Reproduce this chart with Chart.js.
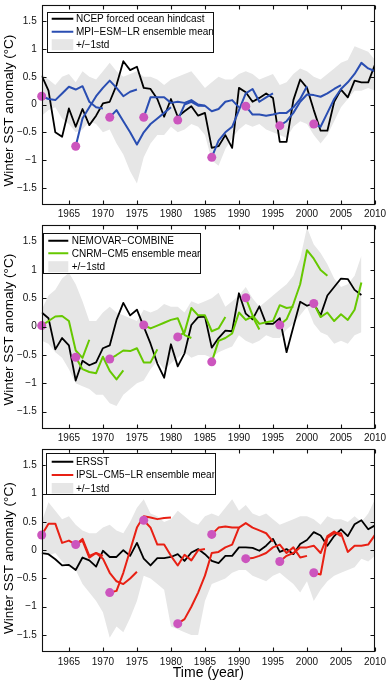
<!DOCTYPE html>
<html><head><meta charset="utf-8">
<script src="https://cdn.jsdelivr.net/npm/chart.js@4/dist/chart.umd.min.js"></script>
<style>
html,body{margin:0;padding:0;background:#fff;width:388px;height:682px;overflow:hidden}
canvas{position:absolute;left:0}
</style></head><body>
<canvas id="c1" width="388" height="223" style="top:0px"></canvas>
<canvas id="c2" width="388" height="227" style="top:220px"></canvas>
<canvas id="c3" width="388" height="238" style="top:444px"></canvas>
<script>
// ---------- categories / ticks ----------
const years = [1961,1962,1963,1964,1965,1966,1967,1968,1969,1970,1971,1972,1973,1974,1975,1976,1977,1978,1979,1980,
  1981,1982,1983,1984,1985,1986,1987,1988,1989,1990,1991,1992,1993,1994,1995,1996,1997,1998,1999,2000,
  2001,2002,2003,2004,2005,2006,2007,2008,2009,2010];
const xTicks = [1965,1970,1975,1980,1985,1990,1995,2000,2005,2010];
const yTicks = [-1.5,-1,-0.5,0,0.5,1,1.5];
const hindcastStarts = [1961,1966,1971,1976,1981,1986,1991,1996,2001];

// ---------- panel 1: NCEP / MPI-ESM-LR ----------
const ncep = [0.52,0.25,-0.50,-0.58,-0.07,-0.40,-0.08,-0.37,-0.20,0.02,0.05,0.35,0.78,0.62,0.68,0.30,0.28,0.10,-0.22,0.10,
  -0.22,-0.12,-0.03,-0.20,-0.15,-0.78,-0.75,-0.55,-0.78,0.30,0.22,0.05,0.12,0.20,0.12,-0.67,-0.67,0.08,0.45,0.30,
  -0.10,-0.47,-0.47,0.05,0.27,0.13,0.43,0.40,0.40,0.72];
const mpiUpper = [0.55,0.45,0.35,0.50,0.55,0.40,0.60,0.50,0.45,0.60,0.75,0.60,0.50,0.55,0.60,0.50,0.50,0.45,0.35,0.45,
  0.50,0.55,0.60,0.45,0.30,0.40,0.50,0.45,0.45,0.55,0.60,0.55,0.45,0.50,0.55,0.35,0.40,0.55,0.65,0.60,
  0.50,0.45,0.55,0.65,0.75,0.80,1.05,1.00,0.95,0.80];
const mpiLower = [-0.20,-0.10,-0.05,-0.25,-0.35,-0.50,-0.45,-0.30,-0.35,-0.50,-0.45,-0.70,-0.90,-1.20,-1.42,-0.95,-0.70,-0.55,-0.55,-0.40,
  -0.50,-0.45,-0.35,-0.40,-0.55,-1.00,-1.10,-0.80,-0.60,-0.45,-0.35,-0.40,-0.35,-0.45,-0.50,-0.55,-0.60,-0.40,-0.30,-0.35,
  -0.55,-0.70,-0.55,-0.30,-0.05,0.10,0.25,0.25,0.30,0.25];
const mpiHindcasts = [
  [0.15,0.10,0.08,0.20,0.32,0.27,0.33,0.05,-0.05,-0.07],
  [-0.75,-0.25,-0.05,0.15,0.30,0.43,0.30,0.15,0.23,0.27],
  [-0.23,-0.10,-0.30,-0.50,-0.72,-0.50,-0.35,-0.25,-0.15,-0.05],
  [-0.23,0.13,0.13,0.13,0.03,0.05,0.03,0.08,0.00,-0.02],
  [-0.28,0.00,0.05,-0.02,-0.02,-0.12,-0.08,0.05,0.08,-0.05],
  [-0.95,-0.65,-0.50,-0.40,-0.10,0.20,0.28,0.05,0.13,0.20],
  [-0.03,-0.18,-0.18,-0.20,-0.18,-0.15,-0.15,-0.05,0.10,0.33],
  [-0.38,-0.30,-0.15,0.05,0.18,0.17,0.14,0.20,0.28,0.35],
  [-0.35,-0.40,-0.15,0.10,0.28,0.40,0.55,0.75,0.65,0.60]
];

// ---------- panel 2: NEMOVAR / CNRM-CM5 ----------
const nemovar = [0.25,0.15,-0.40,-0.20,-0.33,-0.95,-0.60,-0.68,-0.63,-0.38,-0.33,0.12,0.42,0.20,0.30,0.00,-0.30,-0.65,-0.90,-0.31,
  -0.70,-0.47,0.03,0.17,0.18,-0.37,-0.20,-0.07,-0.08,0.59,0.23,0.13,0.36,0.05,0.05,0.15,-0.45,0.00,0.44,0.37,
  0.41,0.20,0.55,0.70,0.85,0.84,0.65,0.56];
const cnrmUpper = [0.30,0.55,0.65,0.85,0.95,0.75,0.45,0.10,0.10,0.25,0.35,0.25,0.20,0.15,0.10,0.30,0.25,0.30,0.40,0.35,
  0.35,0.25,0.45,0.40,0.45,0.50,0.60,0.35,0.45,0.55,0.70,0.50,0.35,0.45,0.55,0.65,0.75,0.90,1.20,1.75,
  1.45,1.30,1.10,0.85,0.70,0.75,0.90,1.25];
const cnrmLower = [-0.25,-0.30,-0.45,-0.55,-0.75,-1.00,-1.05,-1.10,-1.20,-1.20,-1.35,-1.40,-1.20,-1.10,-1.00,-0.95,-0.75,-0.60,-0.75,-0.65,
  -0.55,-0.45,-0.55,-0.50,-0.50,-0.55,-0.45,-0.40,-0.35,-0.15,-0.25,-0.30,-0.25,-0.15,-0.20,-0.20,-0.05,0.05,0.20,0.35,
  0.05,-0.10,-0.15,-0.30,-0.25,-0.30,-0.15,-0.10];
const cnrmHindcasts = [
  [0.02,0.10,0.18,0.19,0.10,-0.42,-0.55,-0.23],
  [-0.54,-0.75,-0.80,-0.82,-0.53,-0.78,-0.93,-0.77],
  [-0.57,-0.50,-0.42,-0.43,-0.38,-0.63,-0.63,-0.40],
  [0.03,-0.03,0.02,0.07,0.12,0.15,-0.15,-0.20],
  [-0.18,-0.10,0.33,0.20,0.20,-0.08,-0.03,0.17],
  [-0.62,-0.25,-0.20,-0.12,0.25,0.12,0.18,-0.05],
  [0.51,0.20,0.05,0.08,0.10,0.38,0.33,0.35],
  [0.03,0.13,0.40,0.75,1.35,1.20,1.00,0.90],
  [0.41,0.17,0.25,0.10,0.22,0.12,0.30,0.78]
];

// ---------- panel 3: ERSST / IPSL-CM5-LR ----------
const ersst = [-0.05,-0.07,-0.16,-0.27,-0.26,-0.35,-0.13,-0.18,-0.29,-0.01,-0.12,-0.12,0.00,-0.10,0.13,-0.15,-0.27,-0.14,-0.14,-0.12,
  -0.07,-0.19,-0.04,0.02,-0.07,-0.19,-0.23,-0.10,-0.10,0.05,0.05,0.04,-0.01,0.08,0.20,-0.03,0.02,-0.07,0.11,0.18,
  0.32,0.26,0.08,0.25,0.37,0.25,0.46,0.53,0.37,0.44];
const ipslUpper = [0.50,0.85,0.70,0.55,0.60,0.45,0.35,0.30,0.30,0.40,0.45,0.35,0.30,0.50,0.75,0.90,0.65,0.60,0.50,0.55,
  0.70,0.60,0.50,0.45,0.60,0.65,0.60,0.75,0.90,0.70,0.80,0.65,0.60,0.65,0.55,0.45,0.50,0.55,0.60,0.60,
  0.55,0.45,0.60,0.55,0.55,0.50,0.60,0.50,0.65,0.90];
const ipslLower = [0.00,-0.10,-0.05,-0.20,-0.30,-0.35,-0.60,-0.75,-0.90,-1.10,-1.55,-1.35,-1.45,-1.20,-0.90,-0.45,-0.50,-0.60,-0.70,-1.35,
  -1.40,-1.45,-1.50,-1.50,-0.90,-0.60,-0.55,-0.50,-0.40,-0.35,-0.35,-0.45,-0.50,-0.55,-0.45,-0.40,-0.50,-0.60,-0.75,-0.55,
  -0.90,-0.70,-0.55,-0.45,-0.40,-0.35,-0.30,-0.15,-0.20,-0.10];
const ipslHindcasts = [
  [0.27,0.47,0.47,0.13,0.17,0.10,0.17,-0.13,-0.05,-0.10],
  [0.10,0.20,-0.10,-0.05,-0.15,-0.40,-0.55,-0.60,-0.50,-0.38],
  [-0.75,-0.72,-0.40,0.00,0.40,0.60,0.58,0.55,0.57,0.58],
  [0.53,0.40,0.10,0.10,-0.10,-0.27,-0.08,-0.18,0.00,0.02],
  [-1.30,-1.22,-1.00,-0.75,-0.45,-0.05,-0.03,0.05,0.10,0.40],
  [0.28,0.40,0.42,0.40,0.40,0.48,0.40,0.35,0.30,0.15],
  [-0.15,-0.14,-0.10,-0.05,0.05,0.10,-0.05,0.05,-0.13,-0.10],
  [-0.20,-0.10,-0.05,0.05,0.05,0.08,-0.05,0.25,0.33,0.25],
  [-0.40,-0.43,0.22,0.30,0.30,-0.03,0.08,0.08,0.10,0.27]
];

// ---------- styling ----------
const FONT = "'Liberation Sans', Arial, Helvetica, sans-serif";
const GRAY = 'rgb(230,230,230)';
const DOT = 'rgb(204,85,190)';
const Y_TITLE = 'Winter SST anomaly (\u00B0C)';

function series(vals) { return vals.map((v, i) => ({x: years[i], y: v})); }
function hind(start, vals) { const k = years.indexOf(start); return vals.map((v, i) => ({x: years[k + i], y: v})); }

const framePlugin = {
  id: 'frame',
  afterDatasetsDraw(chart, args, opts) {
    const {ctx, chartArea: a, scales: {x, y}} = chart;
    ctx.save();
    ctx.strokeStyle = '#111'; ctx.lineWidth = 1.1;
    const L = Math.round(a.left) + 0.5, R = Math.round(a.right) - 0.5, T = Math.round(a.top) + 0.5, B = Math.round(a.bottom) - 0.5;
    ctx.beginPath();
    xTicks.forEach(t => { const px = Math.round(x.getPixelForValue(t)) + 0.5; ctx.moveTo(px, B); ctx.lineTo(px, B - 4); ctx.moveTo(px, T); ctx.lineTo(px, T + 4); });
    yTicks.forEach(t => { const py = Math.round(y.getPixelForValue(t)) + 0.5; ctx.moveTo(L, py); ctx.lineTo(L + 4, py); ctx.moveTo(R, py); ctx.lineTo(R - 4, py); });
    ctx.stroke();
    ctx.strokeRect(L, T, R - L, B - T);
    // y title
    ctx.save();
    ctx.translate(9.5, (a.top + a.bottom) / 2 + opts.titleShift);
    ctx.rotate(-Math.PI / 2);
    ctx.font = '13.5px ' + FONT; ctx.fillStyle = '#000'; ctx.textAlign = 'center'; ctx.textBaseline = 'middle';
    ctx.fillText(Y_TITLE, 0, 0);
    ctx.restore();
    // legend
    const lg = opts.legend;
    const bx = a.left + lg.dx, by = a.top + lg.dy;
    ctx.fillStyle = '#fff'; ctx.fillRect(bx, by, lg.w, lg.h);
    ctx.save();
    ctx.beginPath(); ctx.rect(bx, by, lg.w, lg.h); ctx.clip();
    ctx.font = '10px ' + FONT; ctx.textBaseline = 'middle'; ctx.fillStyle = '#000';
    lg.items.forEach((it, i) => {
      const cy = by + lg.rows[i];
      if (it.type === 'line') {
        ctx.strokeStyle = it.color; ctx.lineWidth = 2; ctx.beginPath();
        ctx.moveTo(bx + lg.s0, cy); ctx.lineTo(bx + lg.s1, cy); ctx.stroke();
      } else {
        ctx.fillStyle = GRAY; ctx.fillRect(bx + lg.s0, cy - 5.5, lg.s1 - lg.s0, 11); ctx.fillStyle = '#000';
      }
      ctx.fillText(it.label, bx + lg.tx, cy + 0.5);
    });
    ctx.restore();
    ctx.strokeStyle = '#111'; ctx.lineWidth = 1;
    ctx.strokeRect(Math.round(bx) + 0.5, Math.round(by) + 0.5, Math.round(lg.w), Math.round(lg.h));
    ctx.restore();
  }
};

function makePanel(id, p) {
  const ds = [];
  ds.push({data: series(p.upper), borderWidth: 0, pointRadius: 0, fill: '+1', backgroundColor: GRAY, order: 20});
  ds.push({data: series(p.lower), borderWidth: 0, pointRadius: 0, fill: false, order: 21});
  ds.push({data: series(p.obs), borderColor: '#000', borderWidth: 1.8, pointRadius: 0, fill: false, order: 10, tension: 0});
  p.hind.forEach((h, i) => ds.push({data: hind(hindcastStarts[i], h), borderColor: p.color, borderWidth: 2, pointRadius: 0, fill: false, order: 5}));
  ds.push({data: p.hind.map((h, i) => ({x: hindcastStarts[i], y: h[0]})), showLine: false, pointRadius: 4.5, pointHoverRadius: 4.5,
    pointBackgroundColor: DOT, pointBorderColor: DOT, pointBorderWidth: 0, order: 1, clip: false});
  const xAxis = {
    type: 'linear', min: 1961, max: 2010,
    afterBuildTicks: s => { s.ticks = xTicks.map(v => ({value: v})); },
    ticks: {callback: v => String(v), font: {family: FONT, size: 10}, color: '#111', padding: 4, maxRotation: 0, autoSkip: false},
    grid: {display: false, drawTicks: false}, border: {display: false},
    title: p.xTitle ? {display: true, text: p.xTitle, font: {family: FONT, size: 14}, color: '#000', padding: {top: 0, bottom: 0}} : {display: false},
    afterFit: s => { s.height = p.xh; s.paddingLeft = 0; s.paddingRight = 0; }
  };
  const yAxis = {
    min: -1.8, max: 1.8,
    afterBuildTicks: s => { s.ticks = yTicks.map(v => ({value: v})); },
    ticks: {callback: v => (v < 0 ? '\u2212' + Math.abs(v) : String(v)), font: {family: FONT, size: 10}, color: '#111', padding: 5, autoSkip: false},
    grid: {display: false, drawTicks: false}, border: {display: false},
    title: {display: false},
    afterFit: s => { s.width = 41.7; s.paddingTop = 0; s.paddingBottom = 0; }
  };
  new Chart(document.getElementById(id), {
    type: 'line',
    data: {datasets: ds},
    options: {
      responsive: false, animation: false, devicePixelRatio: 1,
      layout: {padding: {top: p.padTop, left: 0, right: 13, bottom: 0}},
      plugins: {legend: {display: false}, tooltip: {enabled: false}, frame: {legend: p.legend, titleShift: p.titleShift}},
      scales: {x: xAxis, y: yAxis},
      elements: {line: {borderCapStyle: 'butt', borderJoinStyle: 'round'}}
    },
    plugins: [framePlugin]
  });
}

makePanel('c1', {obs: ncep, upper: mpiUpper, lower: mpiLower, hind: mpiHindcasts, color: 'rgb(42,78,178)', padTop: 0.8, xh: 18.4, titleShift: 6,
  legend: {dx: 5.6, dy: 7.5, w: 166, h: 40, rows: [6.7, 19.7, 32.7], s0: 4.4, s1: 26, tx: 28.7,
    items: [{type: 'line', color: '#000', label: 'NCEP forced ocean hindcast'}, {type: 'line', color: 'rgb(42,78,178)', label: 'MPI\u2212ESM\u2212LR ensemble mean'}, {type: 'band', label: '+/\u22121std'}]}});
makePanel('c2', {obs: nemovar, upper: cnrmUpper, lower: cnrmLower, hind: cnrmHindcasts, color: 'rgb(102,200,0)', padTop: 4.7, xh: 18.3, titleShift: 3,
  legend: {dx: 1.6, dy: 8.6, w: 157, h: 40, rows: [7.4, 20, 33.4], s0: 5, s1: 25, tx: 28.4,
    items: [{type: 'line', color: '#000', label: 'NEMOVAR\u2212COMBINE'}, {type: 'line', color: 'rgb(102,200,0)', label: 'CNRM\u2212CM5 ensemble mean'}, {type: 'band', label: '+/\u22121std'}]}});
makePanel('c3', {obs: ersst, upper: ipslUpper, lower: ipslLower, hind: ipslHindcasts, color: 'rgb(232,32,20)', padTop: 2.7, xh: 30.1, xTitle: 'Time (year)', titleShift: 8,
  legend: {dx: 4, dy: 4.3, w: 168.6, h: 40.7, rows: [9, 22.3, 35.7], s0: 6, s1: 27.6, tx: 30.3,
    items: [{type: 'line', color: '#000', label: 'ERSST'}, {type: 'line', color: 'rgb(232,32,20)', label: 'IPSL\u2212CM5\u2212LR ensemble mean'}, {type: 'band', label: '+/\u22121std'}]}});
</script>
</body></html>
